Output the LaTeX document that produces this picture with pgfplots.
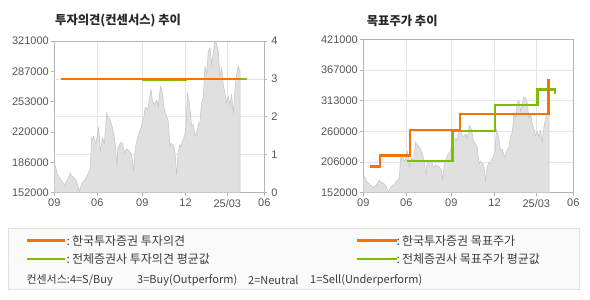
\documentclass[border=0pt]{standalone}
\usepackage{pgfplots}
\pgfplotsset{compat=1.18}
\usepackage{pgfplotstable}
\usepackage{fontspec}
\setmainfont{Liberation Sans}
\newfontfamily\kr{Noto Sans CJK KR}
\definecolor{axisc}{RGB}{180,180,180}
\definecolor{gridc}{RGB}{228,228,228}
\definecolor{labc}{RGB}{85,85,85}
\definecolor{areaf}{RGB}{224,224,224}
\definecolor{areae}{RGB}{196,196,196}
\definecolor{orgc}{RGB}{245,115,0}
\definecolor{grnc}{RGB}{125,190,0}
\definecolor{titc}{RGB}{40,40,40}
\definecolor{legbg}{RGB}{250,250,250}
\definecolor{legbd}{RGB}{225,225,225}
\definecolor{legtx}{RGB}{60,60,60}

\pgfplotstableread{
u v
0 184700
1.5 180000
3.3 172000
5 169000
6.7 166500
8.5 163000
10 160900
11.5 163500
13.3 166500
15 171000
16 174000
17 171000
18.3 170000
20.7 168000
22 165000
23.3 161000
25 153500
26.2 158000
27.3 161000
28.5 164000
30 165000
31.5 168000
33.3 172000
35 176000
36 178000
37.3 213000
38.3 211000
39.3 215000
40.5 210000
41.7 207000
43 216000
44.3 224000
45.2 212000
46 198000
47.2 206000
48.3 213000
50 207000
51 220000
52.3 240800
53.5 236000
55 235000
56.2 231000
57.3 228000
59.3 218500
61 205500
62.7 181400
63.3 200000
65 205500
66.5 208000
68.3 207000
69.5 200000
70.7 196000
72 201000
73.3 200000
75 198000
76.7 196000
78 190000
79.3 175700
81 202000
82.2 208000
83.3 213000
85 220000
86.7 224000
88 231000
89.3 235000
90.7 246000
92 247000
93.3 244000
95 256000
96.7 266800
98.3 254000
100.7 250000
102 255000
103 253000
104 248000
105.2 262000
106.3 270400
107.2 266000
108.3 263000
109.7 246000
111 241000
112.3 237000
114 231500
115.7 203600
117 207000
118.3 205500
119.7 203000
120.7 196200
121.5 185000
122.3 172000
123.7 196000
125.7 205500
127 203000
128 209000
130 214800
131.7 224000
133 263000
134 258000
135 252000
136.2 240000
137.3 226000
139 228000
140.2 220000
141.3 214800
142.5 220000
144 228000
145.7 231500
147.3 252000
149 257500
150.7 292800
151.5 288000
152.3 284000
154 309500
155.7 313200
157.3 295000
159 307500
160.7 320500
162.3 318000
164 309500
165.7 281600
167.3 290800
169 272000
170.7 263000
172.3 252000
174 259500
175.7 250000
177.3 261000
179 240800
180.7 268000
182.3 283500
184 292800
185.7 287000
}\price

\pgfplotsset{
 base/.style={scale only axis, width=210bp, xmin=0, xmax=210, anchor=south west,
   scaled y ticks=false, scaled x ticks=false,
   axis line style={draw=axisc, line width=0.8bp},
   tick style={draw=axisc, line width=0.8bp}, tick align=outside, major tick length=3bp,
   ticklabel style={font=\fontsize{11bp}{12bp}\selectfont, text=labc},
   xtick={0,43,88,131.3,173,210}, xticklabels={09,06,09,12,25/03,06},
   xmajorgrids, grid style={draw=gridc, line width=0.8bp},
   xtick pos=bottom},
 pricearea/.style={fill=areaf, draw=areae, line width=0.5bp},
}

\begin{document}
\begin{tikzpicture}
\useasboundingbox[fill=white] (0,0) rectangle (590bp,300bp);

% ---- left chart: opinion ----
\begin{axis}[base, at={(54.3bp,107.3bp)}, height=151.7bp,
  ymin=152000, ymax=321000, ytick pos=left,
  yticklabel style={xshift=1bp},
  ytick={152000,185800,219600,253400,287200,321000},
  yticklabels={152000,186000,220000,253000,287000,321000},
  extra y ticks={194250,236500,278750}, extra y tick labels={},
  extra y tick style={grid=major, major tick length=0pt}]
\addplot[pricearea] table[x=u,y=v] {\price} \closedcycle;
\end{axis}
\begin{axis}[base, at={(54.3bp,107.3bp)}, height=151.7bp,
  ymin=0, ymax=4, axis x line=none, axis y line*=right, xmajorgrids=false,
  ytick pos=right, yticklabel pos=right,
  ytick={0,1,2,3,4}, yticklabels={0,1,2,3,4},
  yticklabel style={xshift=0.5bp}]
\addplot[grnc, line width=2.5bp] coordinates {(88,2.97) (132.4,2.97)};
\addplot[grnc, line width=2.5bp] coordinates {(184,3) (192.4,3)};
\addplot[orgc, line width=2.5bp] coordinates {(6.7,3) (185,3)};
\end{axis}

% ---- right chart: target price ----
\begin{axis}[base, at={(363.3bp,107.3bp)}, height=153.3bp,
  ymin=152000, ymax=421000, ymajorgrids, ytick pos=left,
  yticklabel style={xshift=1bp},
  ytick={152000,205800,259600,313400,367200,421000},
  yticklabels={152000,206000,260000,313000,367000,421000}]
\addplot[pricearea] table[x=u,y=v] {\price} \closedcycle;
\addplot[const plot, grnc, line width=2.5bp] coordinates {(43.3,207600) (89,260200) (131.7,305800) (174,333300) (191.7,333300) (191.7,324500)};
\addplot[const plot, orgc, line width=2.5bp] coordinates {(6.7,197600) (16.7,216900) (46.7,261900) (96.7,290000) (185,290000) (185,350800)};
\end{axis}

% ---- titles ----
\node[anchor=west, inner sep=0, text=titc, font=\kr\bfseries\fontsize{12.3bp}{14bp}\selectfont] at (55bp,279bp) {투자의견(컨센서스) 추이};
\node[anchor=west, inner sep=0, text=titc, font=\kr\bfseries\fontsize{12.3bp}{14bp}\selectfont] at (366.7bp,279bp) {목표주가 추이};

% ---- legend ----
\draw[fill=legbg, draw=legbd, line width=0.8bp] (8.3bp,10.7bp) rectangle (579.3bp,71.7bp);
\draw[orgc, line width=2.5bp] (26.7bp,59.3bp) -- (65bp,59.3bp);
\draw[grnc, line width=2.5bp] (26.7bp,41bp) -- (65bp,41bp);
\draw[orgc, line width=2.5bp] (356.7bp,59.3bp) -- (396.7bp,59.3bp);
\draw[grnc, line width=2.5bp] (356.7bp,41bp) -- (396.7bp,41bp);
\begin{scope}[every node/.style={anchor=west, inner sep=0, text=legtx, font=\kr\fontsize{12bp}{13bp}\selectfont}]
\node at (66.5bp,59.3bp) {:\,한국투자증권 투자의견};
\node at (66.5bp,41bp) {:\,전체증권사 투자의견 평균값};
\node at (396.5bp,59.3bp) {:\,한국투자증권 목표주가};
\node at (396.5bp,41bp) {:\,전체증권사 목표주가 평균값};
\end{scope}
\begin{scope}[every node/.style={anchor=west, inner sep=0, text=legtx, font=\kr\fontsize{11bp}{12bp}\selectfont}]
\node at (26.3bp,20bp) {컨센서스:4=S/Buy};
\node at (137bp,20bp) {3=Buy(Outperform)};
\node at (248bp,20bp) {2=Neutral};
\node at (310bp,20bp) {1=Sell(Underperform)};
\end{scope}
\end{tikzpicture}
\end{document}
